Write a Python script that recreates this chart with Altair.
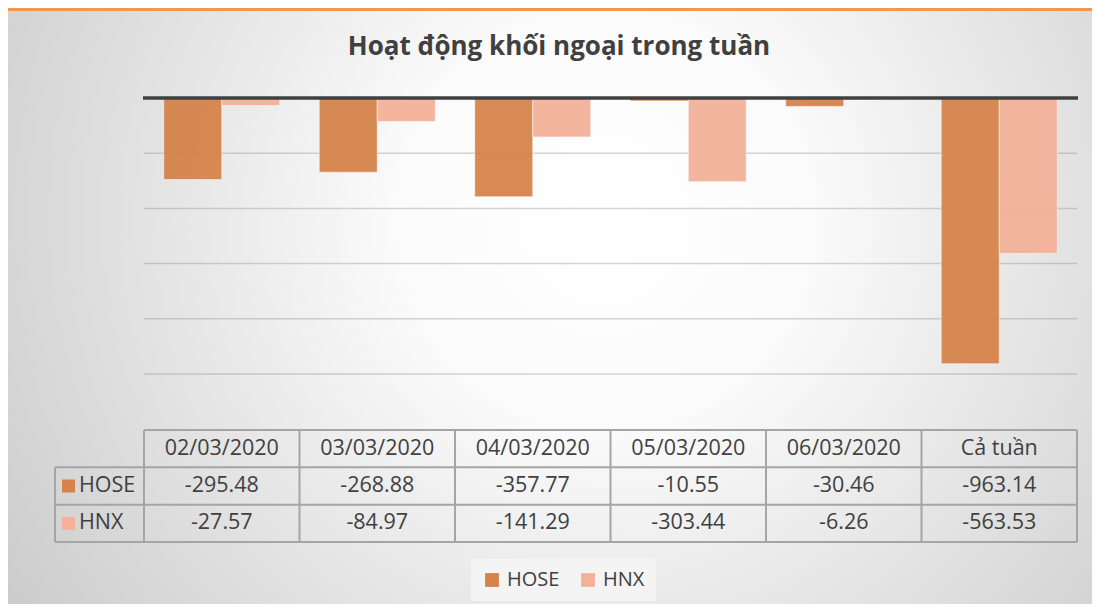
import altair as alt
import pandas as pd

# ---- data ----
days = ["02/03/2020", "03/03/2020", "04/03/2020", "05/03/2020", "06/03/2020", "Cả tuần"]
series = ["HOSE", "HNX"]
hose = [-295.48, -268.88, -357.77, -10.55, -30.46, -963.14]
hnx = [-27.57, -84.97, -141.29, -303.44, -6.26, -563.53]
colors = ["#D6834A", "#F4B19A"]
rows = ["header", "HOSE", "HNX"]
y_ticks = [-1000, -800, -600, -400, -200]
title_text = "Hoạt động khối ngoại trong tuần"

# ---- layout constants ----
W, H = 933, 276
PL, PT = 136, 90
TW, TH = 1084, 596
FONT = "Open Sans"
TXT = "#404040"
LINE = "#a5a5a5"
TAB_TOP, TAB_BOT = 332, 444
LABEL_X = -89
TFS = 21.5

bars_df = pd.DataFrame({
    "day": days * 2,
    "series": ["HOSE"] * len(days) + ["HNX"] * len(days),
    "value": hose + hnx,
})
bars_df["label"] = [f"{v:.2f}" for v in bars_df["value"]]

x_scale = alt.Scale(domain=days, paddingInner=0, paddingOuter=0)
x_enc = alt.X("day:N", sort=days, scale=x_scale, axis=None)
yq = alt.Scale(domain=[-1000, 0], nice=False, zero=False)
row_scale = alt.Scale(domain=rows, range=[TAB_TOP, TAB_BOT], paddingInner=0, paddingOuter=0)
color_enc = alt.Color(
    "series:N", sort=series,
    scale=alt.Scale(domain=series, range=colors),
    legend=alt.Legend(
        orient="none", legendX=327, legendY=461, direction="horizontal", title=None,
        symbolType="square", symbolSize=190, symbolStrokeWidth=0, symbolOpacity=1,
        labelFontSize=20, labelFont=FONT, labelColor=TXT, labelOffset=5,
        columnPadding=18, fillColor="#f4f4f4", padding=11,
    ),
)

# background with radial gradient
bg = alt.Chart(pd.DataFrame({"a": [0]})).mark_rect(
    fill={
        "gradient": "radial",
        "x1": 0.55, "y1": 0.42, "r1": 0.0,
        "x2": 0.55, "y2": 0.42, "r2": 0.75,
        "stops": [
            {"offset": 0.0, "color": "#ffffff"},
            {"offset": 0.25, "color": "#fbfbfb"},
            {"offset": 1.0, "color": "#c2c2c2"},
        ],
    }
).encode(x=alt.value(-PL), x2=alt.value(TW - PL), y=alt.value(-PT), y2=alt.value(TH - PT))

topline = alt.Chart(pd.DataFrame({"a": [0]})).mark_rect(color="#F5964A").encode(
    x=alt.value(-PL), x2=alt.value(TW - PL), y=alt.value(-PT), y2=alt.value(-PT + 3)
)

title = alt.Chart(pd.DataFrame({"t": [title_text]})).mark_text(
    font=FONT, fontSize=26, fontWeight="bold", color=TXT, baseline="middle"
).encode(x=alt.value(415), y=alt.value(-51), text="t:N")

grid = alt.Chart(pd.DataFrame({"v": y_ticks})).mark_rule(
    color="#808080", opacity=0.32, strokeWidth=1.5
).encode(y=alt.Y("v:Q", scale=yq, axis=None), x=alt.value(0), x2=alt.value(W))

bars = alt.Chart(bars_df).mark_bar(
    opacity=0.94, stroke="#ffffff", strokeOpacity=0.55, strokeWidth=1
).encode(
    x=x_enc,
    xOffset=alt.XOffset("series:N", sort=series,
                        scale=alt.Scale(domain=series, paddingInner=0, paddingOuter=0.34)),
    y=alt.Y("value:Q", scale=yq, axis=None),
    y2=alt.datum(0),
    color=color_enc,
)

zero = alt.Chart(pd.DataFrame({"v": [0]})).mark_rule(color="#404040", strokeWidth=3.5).encode(
    y=alt.Y("v:Q", scale=yq, axis=None), x=alt.value(-1), x2=alt.value(W + 1)
)

# table
header_df = pd.DataFrame({"day": days, "row": ["header"] * len(days)})
header = alt.Chart(header_df).mark_text(font=FONT, fontSize=TFS, color=TXT).encode(
    x=alt.X("day:N", sort=days, scale=x_scale, axis=None, bandPosition=0.5),
    y=alt.Y("row:N", scale=row_scale, axis=None, bandPosition=0.5),
    text="day:N",
)
values = alt.Chart(bars_df).mark_text(font=FONT, fontSize=TFS, color=TXT).encode(
    x=alt.X("day:N", sort=days, scale=x_scale, axis=None, bandPosition=0.5),
    y=alt.Y("series:N", scale=row_scale, axis=None, bandPosition=0.5),
    text="label:N",
)
rowlab_df = pd.DataFrame({"series": series})
rowlab = alt.Chart(rowlab_df).mark_text(font=FONT, fontSize=TFS, color=TXT, align="left").encode(
    x=alt.value(LABEL_X + 24),
    y=alt.Y("series:N", scale=row_scale, axis=None, bandPosition=0.5),
    text="series:N",
)
rowsq = alt.Chart(rowlab_df).mark_square(size=169, opacity=1).encode(
    x=alt.value(LABEL_X + 13.5),
    y=alt.Y("series:N", scale=row_scale, axis=None, bandPosition=0.5),
    color=color_enc,
)

vlines = alt.Chart(pd.DataFrame({"day": days})).mark_rule(color=LINE, strokeWidth=2).encode(
    x=alt.X("day:N", sort=days, scale=x_scale, axis=None, bandPosition=0),
    y=alt.value(TAB_TOP), y2=alt.value(TAB_BOT),
)
vend = alt.Chart(pd.DataFrame({"day": days[-1:]})).mark_rule(color=LINE, strokeWidth=2).encode(
    x=alt.X("day:N", sort=days, scale=x_scale, axis=None, bandPosition=1),
    y=alt.value(TAB_TOP), y2=alt.value(TAB_BOT),
)
hlines_df = pd.DataFrame({"row": rows, "start": [0, LABEL_X, LABEL_X]})
hlines = alt.Chart(hlines_df).mark_rule(color=LINE, strokeWidth=2).encode(
    y=alt.Y("row:N", scale=row_scale, axis=None, bandPosition=0),
    x=alt.X("start:Q", scale=alt.Scale(domain=[0, W], range=[0, W]), axis=None),
    x2=alt.value(W),
)
hbottom = alt.Chart(pd.DataFrame({"row": rows[-1:]})).mark_rule(color=LINE, strokeWidth=2).encode(
    y=alt.Y("row:N", scale=row_scale, axis=None, bandPosition=1),
    x=alt.value(LABEL_X), x2=alt.value(W),
)
vleft = alt.Chart(pd.DataFrame({"a": [0]})).mark_rule(color=LINE, strokeWidth=2).encode(
    x=alt.value(LABEL_X), y=alt.value(TAB_TOP + (TAB_BOT - TAB_TOP) / 3), y2=alt.value(TAB_BOT)
)

chart = alt.layer(
    bg, topline, title, grid, bars, zero, vlines, vend, hlines, hbottom, vleft,
    header, values, rowlab, rowsq
).resolve_scale(y="independent", x="independent").properties(
    width=W, height=H,
    autosize=alt.AutoSizeParams(type="none"),
    padding={"left": PL, "top": PT, "right": TW - PL - W, "bottom": TH - PT - H},
).configure_view(stroke=None).configure(background="transparent")

chart.save("out.html", embed_options={"renderer": "svg", "actions": False})
